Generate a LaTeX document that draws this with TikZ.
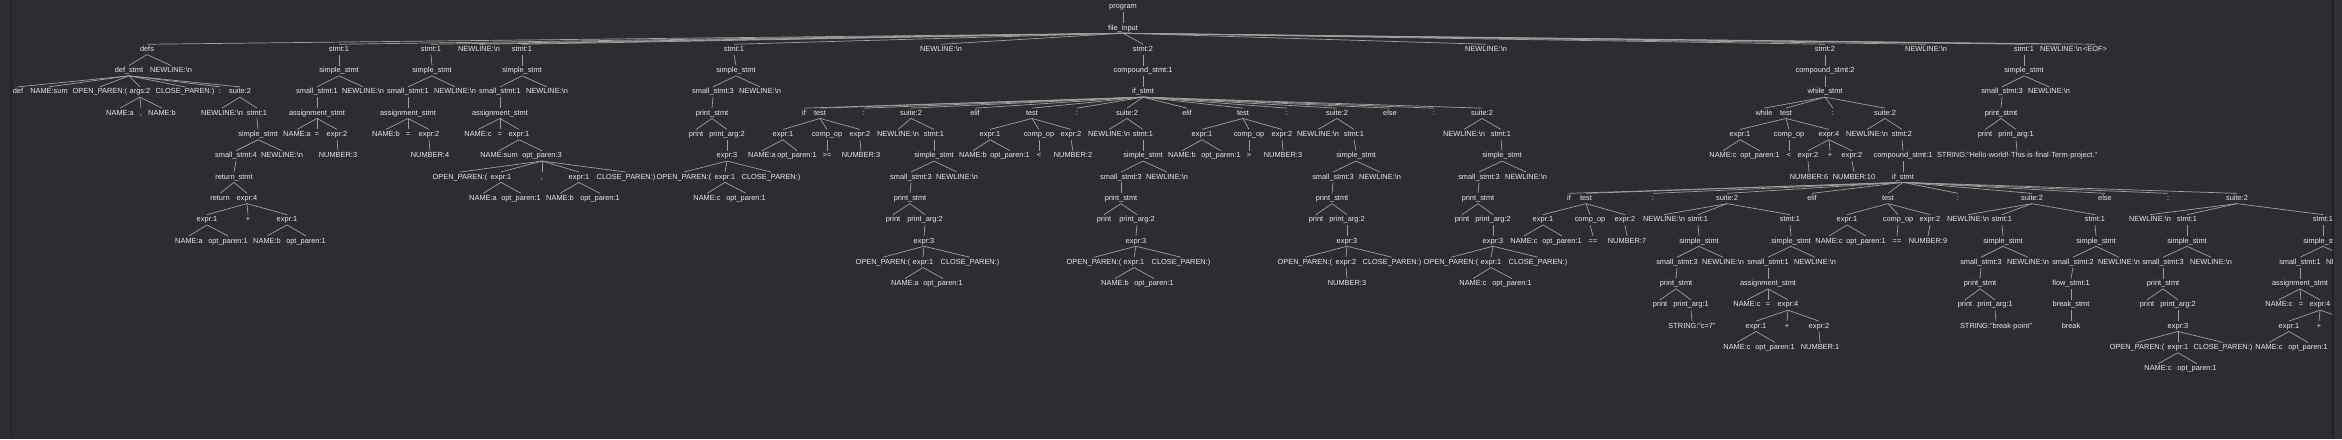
\documentclass[tikz,border=0pt]{standalone}
\usepackage{fontspec}
\setmainfont{Liberation Sans}
\definecolor{bg}{HTML}{2B2D30}
\definecolor{bgr}{HTML}{2F3134}
\definecolor{txt}{HTML}{E8E8E8}
\definecolor{ln}{HTML}{A0A0A0}
\definecolor{brd}{HTML}{1E1F22}
\newcommand\nd[4]{\node[lbl] (#1) at (#2,{-(6.8+21.3*(#3))}) {#4};}
\newcommand\kids[2]{\foreach \chld in {#2}{\draw[edge] (#1.south) -- (\chld.north);}}
\newcommand\NL{NEWLINE:\textbackslash n}
\begin{document}
\begin{tikzpicture}[x=1pt,y=1pt,
  lbl/.style={text=txt,font=\fontsize{7.4}{8}\selectfont,inner sep=1.5pt,text height=5.4pt,text depth=1.5pt},
  edge/.style={draw=ln,line width=0.7pt}]
\useasboundingbox (0,0) rectangle (2342,-439);
\fill[bg] (0,0) rectangle (2342,-439);
\fill[bgr] (2333,0) rectangle (2342,-439);
\draw[brd,line width=1.2pt] (11.5,0) -- (11.5,-439);
\draw[brd,line width=1.2pt] (2333,0) -- (2333,-439);
\begin{scope}
\clip (12.5,0) rectangle (2332.3,-439);
% L0-1
\nd{prog}{1123}{0}{program}
\nd{fi}{1123}{1}{file\_input}
\kids{prog}{fi}
% L2
\nd{defs}{147}{2}{defs}
\nd{sA}{339}{2}{stmt:1}
\nd{sB}{431}{2}{stmt:1}
\nd{nlA}{479}{2}{\NL}
\nd{sC}{522}{2}{stmt:1}
\nd{sD}{734}{2}{stmt:1}
\nd{nlB}{941}{2}{\NL}
\nd{sE}{1143}{2}{stmt:2}
\nd{nlC}{1486}{2}{\NL}
\nd{sF}{1825}{2}{stmt:2}
\nd{nlD}{1926}{2}{\NL}
\nd{sG}{2024}{2}{stmt:1}
\nd{nlE}{2061}{2}{\NL}
\nd{eof}{2095}{2}{<EOF>}
\kids{fi}{defs,sA,sB,nlA,sC,sD,nlB,sE,nlC,sF,nlD,sG,nlE,eof}
% L3
\nd{dst}{129}{3}{def\_stmt}
\nd{dnl}{171}{3}{\NL}
\kids{defs}{dst,dnl}
\nd{ssA}{339}{3}{simple\_stmt} \kids{sA}{ssA}
\nd{ssB}{432}{3}{simple\_stmt} \kids{sB}{ssB}
\nd{ssC}{522}{3}{simple\_stmt} \kids{sC}{ssC}
\nd{ssD}{736}{3}{simple\_stmt} \kids{sD}{ssD}
\nd{csA}{1143}{3}{compound\_stmt:1} \kids{sE}{csA}
\nd{csB}{1825}{3}{compound\_stmt:2} \kids{sF}{csB}
\nd{ssG}{2024}{3}{simple\_stmt} \kids{sG}{ssG}
% L4
\nd{dDef}{18}{4}{def}
\nd{dNm}{49}{4}{NAME:sum}
\nd{dOp}{100}{4}{OPEN\_PAREN:(}
\nd{dArg}{140}{4}{args:2}
\nd{dCp}{185}{4}{CLOSE\_PAREN:)}
\nd{dCol}{220}{4}{:}
\nd{dSu}{240}{4}{suite:2}
\kids{dst}{dDef,dNm,dOp,dArg,dCp,dCol,dSu}
\nd{smA}{317}{4}{small\_stmt:1} \nd{nlsA}{363}{4}{\NL} \kids{ssA}{smA,nlsA}
\nd{smB}{408}{4}{small\_stmt:1} \nd{nlsB}{455}{4}{\NL} \kids{ssB}{smB,nlsB}
\nd{smC}{500}{4}{small\_stmt:1} \nd{nlsC}{547}{4}{\NL} \kids{ssC}{smC,nlsC}
\nd{smD}{713}{4}{small\_stmt:3} \nd{nlsD}{760}{4}{\NL} \kids{ssD}{smD,nlsD}
\nd{ifA}{1143}{4}{if\_stmt} \kids{csA}{ifA}
\nd{whA}{1825}{4}{while\_stmt} \kids{csB}{whA}
\nd{smG}{2002}{4}{small\_stmt:3} \nd{nlsG}{2049}{4}{\NL} \kids{ssG}{smG,nlsG}
% L5
\nd{aNa}{120}{5}{NAME:a} \nd{aCm}{141}{5}{,} \nd{aNb}{162}{5}{NAME:b} \kids{dArg}{aNa,aCm,aNb}
\nd{dsNl}{222}{5}{\NL} \nd{dsS}{257}{5}{stmt:1} \kids{dSu}{dsNl,dsS}
\nd{asA}{317}{5}{assignment\_stmt} \kids{smA}{asA}
\nd{asB}{408}{5}{assignment\_stmt} \kids{smB}{asB}
\nd{asC}{500}{5}{assignment\_stmt} \kids{smC}{asC}
\nd{psD}{712}{5}{print\_stmt} \kids{smD}{psD}
\nd{iIf}{804}{5}{if} \nd{iTa}{820}{5}{test} \nd{iCa}{864}{5}{:} \nd{iSa}{911}{5}{suite:2}
\nd{iEa}{975}{5}{elif} \nd{iTb}{1032}{5}{test} \nd{iCb}{1077}{5}{:} \nd{iSb}{1127}{5}{suite:2}
\nd{iEb}{1187}{5}{elif} \nd{iTc}{1243}{5}{test} \nd{iCc}{1287}{5}{:} \nd{iSc}{1337}{5}{suite:2}
\nd{iEl}{1390}{5}{else} \nd{iCd}{1434}{5}{:} \nd{iSd}{1482}{5}{suite:2}
\kids{ifA}{iIf,iTa,iCa,iSa,iEa,iTb,iCb,iSb,iEb,iTc,iCc,iSc,iEl,iCd,iSd}
\nd{wWh}{1764}{5}{while} \nd{wT}{1786}{5}{test} \nd{wC}{1833}{5}{:} \nd{wS}{1885}{5}{suite:2}
\kids{whA}{wWh,wT,wC,wS}
\nd{psG}{2001}{5}{print\_stmt} \kids{smG}{psG}
% L6
\nd{dsSS}{258}{6}{simple\_stmt} \kids{dsS}{dsSS}
\nd{aAn}{297}{6}{NAME:a} \nd{aAe}{317}{6}{=} \nd{aAx}{337}{6}{expr:2} \kids{asA}{aAn,aAe,aAx}
\nd{aBn}{386}{6}{NAME:b} \nd{aBe}{408}{6}{=} \nd{aBx}{429}{6}{expr:2} \kids{asB}{aBn,aBe,aBx}
\nd{aCn}{478}{6}{NAME:c} \nd{aCe}{500}{6}{=} \nd{aCx}{519}{6}{expr:1} \kids{asC}{aCn,aCe,aCx}
\nd{pDp}{696}{6}{print} \nd{pDa}{727}{6}{print\_arg:2} \kids{psD}{pDp,pDa}
\nd{tAx}{783}{6}{expr:1} \nd{tAo}{827}{6}{comp\_op} \nd{tAy}{860}{6}{expr:2} \kids{iTa}{tAx,tAo,tAy}
\nd{uAn}{898}{6}{\NL} \nd{uAs}{934}{6}{stmt:1} \kids{iSa}{uAn,uAs}
\nd{tBx}{990}{6}{expr:1} \nd{tBo}{1039}{6}{comp\_op} \nd{tBy}{1071}{6}{expr:2} \kids{iTb}{tBx,tBo,tBy}
\nd{uBn}{1109}{6}{\NL} \nd{uBs}{1143}{6}{stmt:1} \kids{iSb}{uBn,uBs}
\nd{tCx}{1202}{6}{expr:1} \nd{tCo}{1249}{6}{comp\_op} \nd{tCy}{1282}{6}{expr:2} \kids{iTc}{tCx,tCo,tCy}
\nd{uCn}{1318}{6}{\NL} \nd{uCs}{1354}{6}{stmt:1} \kids{iSc}{uCn,uCs}
\nd{uDn}{1464}{6}{\NL} \nd{uDs}{1501}{6}{stmt:1} \kids{iSd}{uDn,uDs}
\nd{wTx}{1740}{6}{expr:1} \nd{wTo}{1789}{6}{comp\_op} \nd{wTy}{1829}{6}{expr:4} \kids{wT}{wTx,wTo,wTy}
\nd{wSn}{1867}{6}{\NL} \nd{wSs}{1902}{6}{stmt:2} \kids{wS}{wSn,wSs}
\nd{pGp}{1985}{6}{print} \nd{pGa}{2016}{6}{print\_arg:1} \kids{psG}{pGp,pGa}
% L7
\nd{dsSm}{236}{7}{small\_stmt:4} \nd{dsNl2}{282}{7}{\NL} \kids{dsSS}{dsSm,dsNl2}
\nd{nA}{338}{7}{NUMBER:3} \kids{aAx}{nA}
\nd{nB}{430}{7}{NUMBER:4} \kids{aBx}{nB}
\nd{cSum}{499}{7}{NAME:sum} \nd{cOp}{542}{7}{opt\_paren:3} \kids{aCx}{cSum,cOp}
\nd{pDe}{727}{7}{expr:3} \kids{pDa}{pDe}
\nd{tAxn}{762}{7}{NAME:a} \nd{tAxo}{797}{7}{opt\_paren:1} \kids{tAx}{tAxn,tAxo}
\nd{tAoo}{827}{7}{>=} \kids{tAo}{tAoo}
\nd{tAyn}{861}{7}{NUMBER:3} \kids{tAy}{tAyn}
\nd{uAss}{934}{7}{simple\_stmt} \kids{uAs}{uAss}
\nd{tBxn}{973}{7}{NAME:b} \nd{tBxo}{1010}{7}{opt\_paren:1} \kids{tBx}{tBxn,tBxo}
\nd{tBoo}{1039}{7}{<} \kids{tBo}{tBoo}
\nd{tByn}{1073}{7}{NUMBER:2} \kids{tBy}{tByn}
\nd{uBss}{1143}{7}{simple\_stmt} \kids{uBs}{uBss}
\nd{tCxn}{1182}{7}{NAME:b} \nd{tCxo}{1221}{7}{opt\_paren:1} \kids{tCx}{tCxn,tCxo}
\nd{tCoo}{1249}{7}{>} \kids{tCo}{tCoo}
\nd{tCyn}{1283}{7}{NUMBER:3} \kids{tCy}{tCyn}
\nd{uCss}{1356}{7}{simple\_stmt} \kids{uCs}{uCss}
\nd{uDss}{1502}{7}{simple\_stmt} \kids{uDs}{uDss}
\nd{wTxn}{1723}{7}{NAME:c} \nd{wTxo}{1760}{7}{opt\_paren:1} \kids{wTx}{wTxn,wTxo}
\nd{wToo}{1789}{7}{<} \kids{wTo}{wToo}
\nd{wTya}{1808}{7}{expr:2} \nd{wTyp}{1830}{7}{+} \nd{wTyb}{1852}{7}{expr:2} \kids{wTy}{wTya,wTyp,wTyb}
\nd{wScs}{1903}{7}{compound\_stmt:1} \kids{wSs}{wScs}
\nd{pGs}{2017}{7}{STRING:"Hello·world!·This·is·final·Term·project."} \kids{pGa}{pGs}
% L8
\nd{dsRs}{234}{8}{return\_stmt} \kids{dsSm}{dsRs}
\nd{cOo}{460}{8}{OPEN\_PAREN:(} \nd{cOea}{501}{8}{expr:1} \nd{cOc}{542}{8}{,} \nd{cOeb}{579}{8}{expr:1} \nd{cOcp}{626}{8}{CLOSE\_PAREN:)}
\kids{cOp}{cOo,cOea,cOc,cOeb,cOcp}
\nd{pDeo}{684}{8}{OPEN\_PAREN:(} \nd{pDee}{725}{8}{expr:1} \nd{pDec}{771}{8}{CLOSE\_PAREN:)} \kids{pDe}{pDeo,pDee,pDec}
\nd{uAsm}{911}{8}{small\_stmt:3} \nd{uAnl}{957}{8}{\NL} \kids{uAss}{uAsm,uAnl}
\nd{uBsm}{1121}{8}{small\_stmt:3} \nd{uBnl}{1167}{8}{\NL} \kids{uBss}{uBsm,uBnl}
\nd{uCsm}{1333}{8}{small\_stmt:3} \nd{uCnl}{1380}{8}{\NL} \kids{uCss}{uCsm,uCnl}
\nd{uDsm}{1479}{8}{small\_stmt:3} \nd{uDnl}{1526}{8}{\NL} \kids{uDss}{uDsm,uDnl}
\nd{wNa}{1809}{8}{NUMBER:6} \kids{wTya}{wNa}
\nd{wNb}{1854}{8}{NUMBER:10} \kids{wTyb}{wNb}
\nd{wIf}{1903}{8}{if\_stmt} \kids{wScs}{wIf}
% L9
\nd{dsRr}{220}{9}{return} \nd{dsRe}{247}{9}{expr:4} \kids{dsRs}{dsRr,dsRe}
\nd{cAn}{483}{9}{NAME:a} \nd{cAo}{521}{9}{opt\_paren:1} \kids{cOea}{cAn,cAo}
\nd{cBn}{560}{9}{NAME:b} \nd{cBo}{600}{9}{opt\_paren:1} \kids{cOeb}{cBn,cBo}
\nd{pDen}{707}{9}{NAME:c} \nd{pDeoa}{746}{9}{opt\_paren:1} \kids{pDee}{pDen,pDeoa}
\nd{uAps}{910}{9}{print\_stmt} \kids{uAsm}{uAps}
\nd{uBps}{1121}{9}{print\_stmt} \kids{uBsm}{uBps}
\nd{uCps}{1332}{9}{print\_stmt} \kids{uCsm}{uCps}
\nd{uDps}{1478}{9}{print\_stmt} \kids{uDsm}{uDps}
\nd{jIf}{1569}{9}{if} \nd{jTa}{1586}{9}{test} \nd{jCa}{1653}{9}{:} \nd{jSa}{1727}{9}{suite:2}
\nd{jE}{1812}{9}{elif} \nd{jTb}{1888}{9}{test} \nd{jCb}{1958}{9}{:} \nd{jSb}{2032}{9}{suite:2}
\nd{jEl}{2105}{9}{else} \nd{jCc}{2168}{9}{:} \nd{jSc}{2237}{9}{suite:2}
\kids{wIf}{jIf,jTa,jCa,jSa,jE,jTb,jCb,jSb,jEl,jCc,jSc}
% L10
\nd{dsEa}{207}{10}{expr:1} \nd{dsEp}{248}{10}{+} \nd{dsEb}{287}{10}{expr:1} \kids{dsRe}{dsEa,dsEp,dsEb}
\nd{uApp}{893}{10}{print} \nd{uApa}{925}{10}{print\_arg:2} \kids{uAps}{uApp,uApa}
\nd{uBpp}{1104}{10}{print} \nd{uBpa}{1137}{10}{print\_arg:2} \kids{uBps}{uBpp,uBpa}
\nd{uCpp}{1316}{10}{print} \nd{uCpa}{1347}{10}{print\_arg:2} \kids{uCps}{uCpp,uCpa}
\nd{uDpp}{1462}{10}{print} \nd{uDpa}{1493}{10}{print\_arg:2} \kids{uDps}{uDpp,uDpa}
\nd{jTax}{1543}{10}{expr:1} \nd{jTao}{1590}{10}{comp\_op} \nd{jTay}{1625}{10}{expr:2} \kids{jTa}{jTax,jTao,jTay}
\nd{jSan}{1664}{10}{\NL} \nd{jSaa}{1698}{10}{stmt:1} \nd{jSab}{1790}{10}{stmt:1} \kids{jSa}{jSan,jSaa,jSab}
\nd{jTbx}{1847}{10}{expr:1} \nd{jTbo}{1898}{10}{comp\_op} \nd{jTby}{1930}{10}{expr:2} \kids{jTb}{jTbx,jTbo,jTby}
\nd{jSbn}{1968}{10}{\NL} \nd{jSba}{2002}{10}{stmt:1} \nd{jSbb}{2095}{10}{stmt:1} \kids{jSb}{jSbn,jSba,jSbb}
\nd{jScn}{2150}{10}{\NL} \nd{jSca}{2187}{10}{stmt:1} \nd{jScb}{2323}{10}{stmt:1} \kids{jSc}{jScn,jSca,jScb}
% L11
\nd{dsEan}{189}{11}{NAME:a} \nd{dsEao}{228}{11}{opt\_paren:1} \kids{dsEa}{dsEan,dsEao}
\nd{dsEbn}{267}{11}{NAME:b} \nd{dsEbo}{306}{11}{opt\_paren:1} \kids{dsEb}{dsEbn,dsEbo}
\nd{uAe}{924}{11}{expr:3} \kids{uApa}{uAe}
\nd{uBe}{1136}{11}{expr:3} \kids{uBpa}{uBe}
\nd{uCe}{1347}{11}{expr:3} \kids{uCpa}{uCe}
\nd{uDe}{1493}{11}{expr:3} \kids{uDpa}{uDe}
\nd{jTaxn}{1524}{11}{NAME:c} \nd{jTaxo}{1562}{11}{opt\_paren:1} \kids{jTax}{jTaxn,jTaxo}
\nd{jTaoo}{1593}{11}{==} \kids{jTao}{jTaoo}
\nd{jTayn}{1627}{11}{NUMBER:7} \kids{jTay}{jTayn}
\nd{jSaas}{1699}{11}{simple\_stmt} \kids{jSaa}{jSaas}
\nd{jSabs}{1791}{11}{simple\_stmt} \kids{jSab}{jSabs}
\nd{jTbxn}{1829}{11}{NAME:c} \nd{jTbxo}{1866}{11}{opt\_paren:1} \kids{jTbx}{jTbxn,jTbxo}
\nd{jTboo}{1897}{11}{==} \kids{jTbo}{jTboo}
\nd{jTbyn}{1928}{11}{NUMBER:9} \kids{jTby}{jTbyn}
\nd{jSbas}{2003}{11}{simple\_stmt} \kids{jSba}{jSbas}
\nd{jSbbs}{2096}{11}{simple\_stmt} \kids{jSbb}{jSbbs}
\nd{jScas}{2187}{11}{simple\_stmt} \kids{jSca}{jScas}
\nd{jScbs}{2323}{11}{simple\_stmt} \kids{jScb}{jScbs}
% L12
\nd{uAeo}{883}{12}{OPEN\_PAREN:(} \nd{uAee}{923}{12}{expr:1} \nd{uAec}{970}{12}{CLOSE\_PAREN:)} \kids{uAe}{uAeo,uAee,uAec}
\nd{uBeo}{1094}{12}{OPEN\_PAREN:(} \nd{uBee}{1134}{12}{expr:1} \nd{uBec}{1181}{12}{CLOSE\_PAREN:)} \kids{uBe}{uBeo,uBee,uBec}
\nd{uCeo}{1305}{12}{OPEN\_PAREN:(} \nd{uCee}{1346}{12}{expr:2} \nd{uCec}{1392}{12}{CLOSE\_PAREN:)} \kids{uCe}{uCeo,uCee,uCec}
\nd{uDeo}{1451}{12}{OPEN\_PAREN:(} \nd{uDee}{1491}{12}{expr:1} \nd{uDec}{1538}{12}{CLOSE\_PAREN:)} \kids{uDe}{uDeo,uDee,uDec}
\nd{jSaam}{1677}{12}{small\_stmt:3} \nd{jSaan}{1723}{12}{\NL} \kids{jSaas}{jSaam,jSaan}
\nd{jSabm}{1768}{12}{small\_stmt:1} \nd{jSabn}{1815}{12}{\NL} \kids{jSabs}{jSabm,jSabn}
\nd{jSbam}{1981}{12}{small\_stmt:3} \nd{jSban}{2028}{12}{\NL} \kids{jSbas}{jSbam,jSban}
\nd{jSbbm}{2073}{12}{small\_stmt:2} \nd{jSbbn}{2119}{12}{\NL} \kids{jSbbs}{jSbbm,jSbbn}
\nd{jScam}{2163}{12}{small\_stmt:3} \nd{jScan}{2211}{12}{\NL} \kids{jScas}{jScam,jScan}
\nd{jScbm}{2300}{12}{small\_stmt:1} \nd{jScbn}{2347}{12}{\NL} \kids{jScbs}{jScbm,jScbn}
% L13
\nd{uAeen}{905}{13}{NAME:a} \nd{uAeeo}{943}{13}{opt\_paren:1} \kids{uAee}{uAeen,uAeeo}
\nd{uBeen}{1115}{13}{NAME:b} \nd{uBeeo}{1154}{13}{opt\_paren:1} \kids{uBee}{uBeen,uBeeo}
\nd{uCeen}{1347}{13}{NUMBER:3} \kids{uCee}{uCeen}
\nd{uDeen}{1473}{13}{NAME:c} \nd{uDeeo}{1512}{13}{opt\_paren:1} \kids{uDee}{uDeen,uDeeo}
\nd{jSaap}{1676}{13}{print\_stmt} \kids{jSaam}{jSaap}
\nd{jSaba}{1768}{13}{assignment\_stmt} \kids{jSabm}{jSaba}
\nd{jSbap}{1980}{13}{print\_stmt} \kids{jSbam}{jSbap}
\nd{jSbbf}{2071}{13}{flow\_stmt:1} \kids{jSbbm}{jSbbf}
\nd{jScap}{2163}{13}{print\_stmt} \kids{jScam}{jScap}
\nd{jScba}{2300}{13}{assignment\_stmt} \kids{jScbm}{jScba}
% L14
\nd{kAp}{1660}{14}{print} \nd{kAa}{1691}{14}{print\_arg:1} \kids{jSaap}{kAp,kAa}
\nd{kBn}{1747}{14}{NAME:c} \nd{kBe}{1768}{14}{=} \nd{kBx}{1788}{14}{expr:4} \kids{jSaba}{kBn,kBe,kBx}
\nd{kCp}{1965}{14}{print} \nd{kCa}{1995}{14}{print\_arg:1} \kids{jSbap}{kCp,kCa}
\nd{kDb}{2071}{14}{break\_stmt} \kids{jSbbf}{kDb}
\nd{kEp}{2147}{14}{print} \nd{kEa}{2178}{14}{print\_arg:2} \kids{jScap}{kEp,kEa}
\nd{kFn}{2279}{14}{NAME:c} \nd{kFe}{2301}{14}{=} \nd{kFx}{2320}{14}{expr:4} \kids{jScba}{kFn,kFe,kFx}
% L15
\nd{kAs}{1692}{15}{STRING:"c=7"} \kids{kAa}{kAs}
\nd{kBxa}{1756}{15}{expr:1} \nd{kBxp}{1787}{15}{+} \nd{kBxb}{1819}{15}{expr:2} \kids{kBx}{kBxa,kBxp,kBxb}
\nd{kCs}{1996}{15}{STRING:"break·point"} \kids{kCa}{kCs}
\nd{kDbb}{2071}{15}{break} \kids{kDb}{kDbb}
\nd{kEe}{2178}{15}{expr:3} \kids{kEa}{kEe}
\nd{kFxa}{2289}{15}{expr:1} \nd{kFxp}{2319}{15}{+} \nd{kFxb}{2352}{15}{expr:2} \kids{kFx}{kFxa,kFxp,kFxb}
% L16
\nd{kBxan}{1737}{16}{NAME:c} \nd{kBxao}{1775}{16}{opt\_paren:1} \kids{kBxa}{kBxan,kBxao}
\nd{kBxbn}{1820}{16}{NUMBER:1} \kids{kBxb}{kBxbn}
\nd{kEeo}{2137}{16}{OPEN\_PAREN:(} \nd{kEee}{2178}{16}{expr:1} \nd{kEec}{2223}{16}{CLOSE\_PAREN:)} \kids{kEe}{kEeo,kEee,kEec}
\nd{kFxan}{2269}{16}{NAME:c} \nd{kFxao}{2308}{16}{opt\_paren:1} \kids{kFxa}{kFxan,kFxao}
% L17
\nd{kEeen}{2158}{17}{NAME:c} \nd{kEeeo}{2197}{17}{opt\_paren:1} \kids{kEee}{kEeen,kEeeo}
\end{scope}
\end{tikzpicture}
\end{document}
